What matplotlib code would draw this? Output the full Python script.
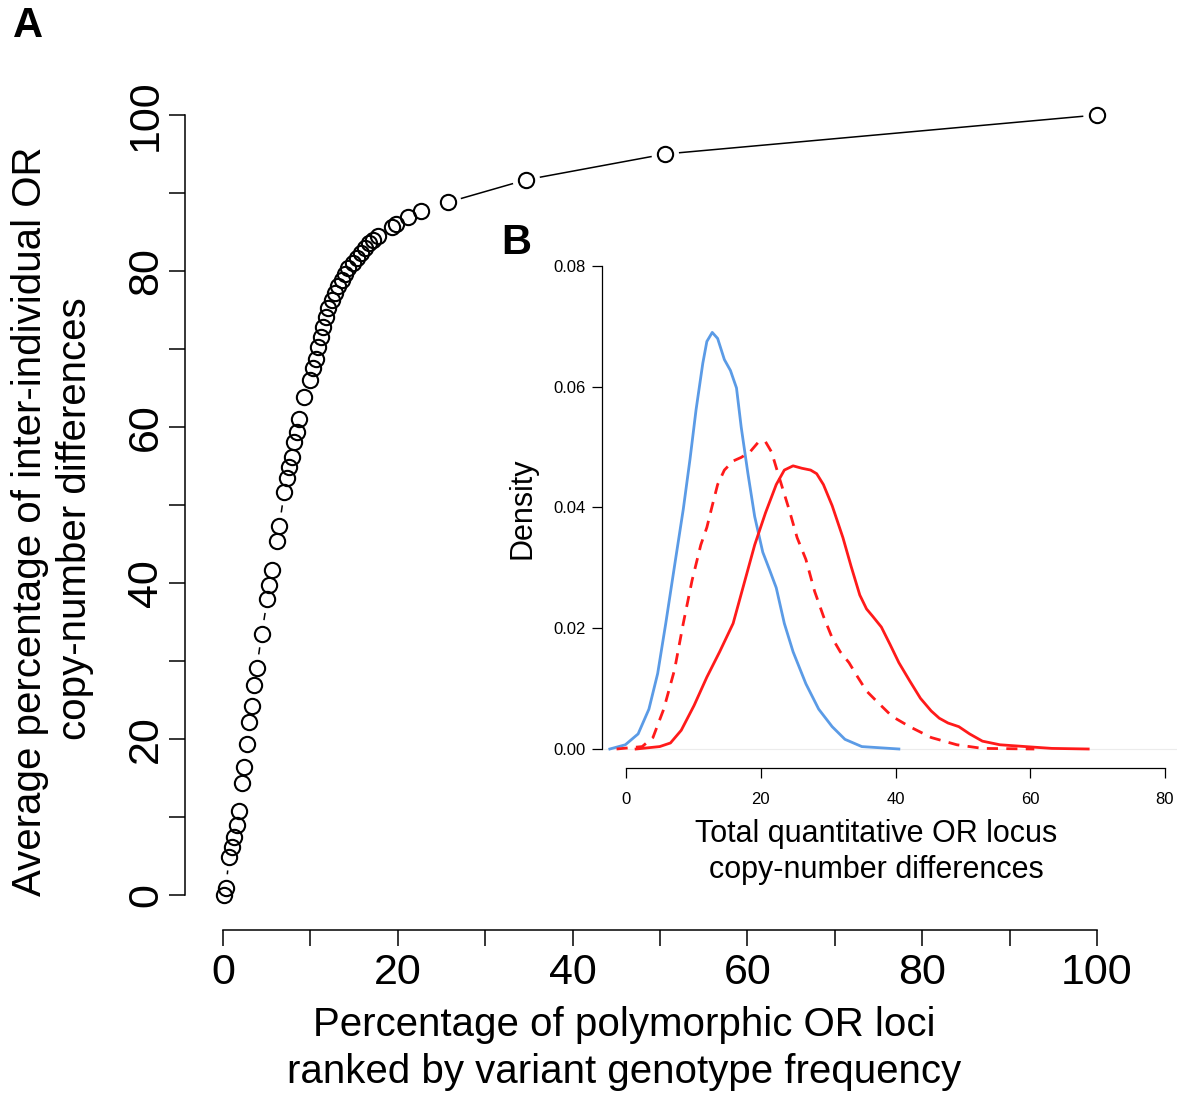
import matplotlib
matplotlib.use('Agg')
import matplotlib.pyplot as plt
import numpy as np

plt.rcParams['font.family'] = ['Liberation Sans', 'DejaVu Sans']

# panel A: ranked loci vs cumulative % of copy-number differences
loci_pct = [0.1, 0.34, 0.69, 1.0, 1.29, 1.57, 1.86, 2.14, 2.44, 2.71, 3.0, 3.28, 3.58, 3.86,
            4.43, 5.07, 5.26, 5.6, 6.14, 6.44, 7.01, 7.29, 7.59, 7.86, 8.16, 8.5, 8.73, 9.3,
            9.95, 10.33, 10.6, 10.9, 11.2, 11.48, 11.8, 12.05, 12.44, 12.8, 13.2, 13.58, 13.96,
            14.34, 14.84, 15.3, 15.76, 16.25, 16.74, 17.2, 17.7, 19.3, 19.8, 21.2, 22.7, 25.7,
            34.7, 50.6, 100]
diff_pct = [0, 0.9, 4.9, 6.2, 7.4, 9.0, 10.8, 14.4, 16.4, 19.4, 22.2, 24.2, 26.9, 29.1,
            33.5, 37.9, 39.7, 41.7, 45.4, 47.3, 51.7, 53.5, 54.9, 56.2, 58.1, 59.4, 61.0, 63.8,
            66.0, 67.6, 68.7, 70.3, 71.5, 72.8, 74.1, 75.3, 76.3, 77.2, 78.1, 78.8, 79.6,
            80.4, 81.0, 81.7, 82.3, 82.9, 83.6, 84.0, 84.5, 85.6, 86.0, 86.9, 87.7, 88.8,
            91.7, 95.0, 100]

# panel B: density curves
blue_x = [-2.4, -0.1, 1.8, 3.4, 4.7, 5.9, 7.2, 8.5, 9.5, 10.4, 11.4, 12.0, 12.8, 13.6, 14.6,
          15.5, 16.4, 17.1, 18.1, 19.1, 20.3, 21.3, 22.3, 23.5, 24.8, 26.7, 28.6, 30.6, 32.5,
          35.0, 40.5]
blue_y = [0, 0.0007, 0.0025, 0.0066, 0.0125, 0.0208, 0.0303, 0.0397, 0.048, 0.0562, 0.0639,
          0.0675, 0.069, 0.068, 0.0645, 0.0627, 0.0598, 0.0533, 0.0456, 0.0385, 0.0326, 0.0297,
          0.0267, 0.0208, 0.0161, 0.0108, 0.0066, 0.0037, 0.0016, 0.0004, 0]

dash_x = [-1.4, 2.4, 4.0, 5.6, 7.2, 8.5, 9.8, 11.1, 12.0, 12.8, 13.6, 14.6, 15.9, 17.1, 18.4,
          19.7, 20.7, 21.6, 22.9, 24.2, 25.4, 26.7, 28.0, 29.3, 30.6, 31.8, 33.1, 34.4, 35.7,
          37.3, 39.5, 42.1, 45.3, 49.1, 52.9, 60.6]
dash_y = [0, 0.0004, 0.0019, 0.0066, 0.0131, 0.0208, 0.0279, 0.0338, 0.0367, 0.0403, 0.0438,
          0.0462, 0.0477, 0.0483, 0.0492, 0.0509, 0.0509, 0.0492, 0.0444, 0.0397, 0.035, 0.0314,
          0.0261, 0.022, 0.0184, 0.0161, 0.0143, 0.0119, 0.0096, 0.0078, 0.0054, 0.0037, 0.0019,
          0.0007, 0.0001, 0]

red_x = [1.5, 5.0, 6.6, 8.2, 10.1, 12.0, 13.9, 15.9, 17.5, 19.1, 20.7, 22.3, 23.5, 24.8, 26.1,
         27.4, 28.3, 29.3, 30.6, 32.2, 33.4, 34.7, 35.7, 36.6, 37.9, 39.2, 40.5, 42.1, 43.7,
         45.3, 46.5, 47.8, 49.4, 51.0, 52.9, 55.5, 59.3, 63.2, 68.6]
red_y = [0, 0.0004, 0.001, 0.0031, 0.0072, 0.0119, 0.0161, 0.0208, 0.0273, 0.0338, 0.0391,
         0.0438, 0.0462, 0.0469, 0.0465, 0.0462, 0.0456, 0.0438, 0.0403, 0.035, 0.0303, 0.0255,
         0.0232, 0.022, 0.0202, 0.0173, 0.0143, 0.0113, 0.0084, 0.0063, 0.0051, 0.0043, 0.0037,
         0.0025, 0.0013, 0.0007, 0.0004, 0.0001, 0]

W, H = 1177, 1094
fig = plt.figure(figsize=(W / 100, H / 100), dpi=100)

def box(l, t, r, b):
    return [l / W, 1 - b / H, (r - l) / W, (b - t) / H]

# ---- A
ax = fig.add_axes(box(223, 115, 1097, 895))
ax.set_xlim(0, 100)
ax.set_ylim(0, 100)
ax.patch.set_visible(False)
ax.plot(loci_pct, diff_pct, 'o', ms=11, mfc='none', mec='black', mew=1.5, clip_on=False)

# R type="b": segments with a gap round each point
gap = 14.5
pts = ax.transData.transform(np.column_stack([loci_pct, diff_pct]))
inv = ax.transData.inverted()
for p0, p1 in zip(pts[:-1], pts[1:]):
    d = p1 - p0
    L = np.hypot(*d)
    if L > 2 * gap + 1:
        seg = inv.transform([p0 + d / L * gap, p1 - d / L * gap])
        ax.plot(seg[:, 0], seg[:, 1], color='black', lw=1.1, clip_on=False)

for s in ['top', 'right']:
    ax.spines[s].set_visible(False)
ax.spines['left'].set_position(('outward', 27.4))
ax.spines['bottom'].set_position(('outward', 25.2))
ax.spines['left'].set_bounds(0, 100)
ax.spines['bottom'].set_bounds(0, 100)
for s in ['left', 'bottom']:
    ax.spines[s].set_linewidth(1.1)
ax.set_xticks(range(0, 101, 20))
ax.set_xticks(range(10, 100, 20), minor=True)
ax.set_yticks(range(0, 101, 20))
ax.set_yticks(range(10, 100, 20), minor=True)
ax.set_yticklabels([str(v) for v in range(0, 101, 20)], rotation=90, va='center')
ax.tick_params(which='both', length=11.5, width=1.1, direction='out')
ax.tick_params(axis='x', labelsize=31, pad=5)
ax.tick_params(axis='y', labelsize=31, pad=2)

fig.text(30 / W, 1 - 521 / H, 'Average percentage of inter-individual OR', rotation=90,
         ha='center', va='center', fontsize=29)
fig.text(75 / W, 1 - 519 / H, 'copy-number differences', rotation=90,
         ha='center', va='center', fontsize=29)
fig.text(624 / W, 1 - 1025 / H, 'Percentage of polymorphic OR loci',
         ha='center', va='center', fontsize=29)
fig.text(624 / W, 1 - 1072 / H, 'ranked by variant genotype frequency',
         ha='center', va='center', fontsize=29)
fig.text(28 / W, 1 - 26 / H, 'A', ha='center', va='center', fontsize=30, fontweight='bold')

# ---- B
bx = fig.add_axes(box(626, 266, 1165, 749))
bx.set_xlim(0, 80)
bx.set_ylim(0, 0.08)
bx.patch.set_visible(False)
bx.plot([-0.04, 1.02], [0, 0], color='#ececec', lw=0.8, transform=bx.get_yaxis_transform(),
        clip_on=False)
bx.plot(blue_x, blue_y, color='#5b9be6', lw=2.0, solid_joinstyle='round', clip_on=False)
bx.plot(dash_x, dash_y, color='#ff1a1a', lw=2.0, dashes=(4, 3), clip_on=False)
bx.plot(red_x, red_y, color='#ff1a1a', lw=2.0, solid_joinstyle='round', clip_on=False)
for s in ['top', 'right']:
    bx.spines[s].set_visible(False)
bx.spines['left'].set_position(('outward', 17.3))
bx.spines['bottom'].set_position(('outward', 13.7))
bx.spines['left'].set_bounds(0, 0.08)
bx.spines['bottom'].set_bounds(0, 80)
for s in ['left', 'bottom']:
    bx.spines[s].set_linewidth(0.9)
bx.set_xticks(range(0, 81, 20))
bx.set_yticks([0, 0.02, 0.04, 0.06, 0.08])
bx.set_yticklabels(['0.00', '0.02', '0.04', '0.06', '0.08'])
bx.tick_params(length=7, width=0.9, direction='out', labelsize=12)
bx.tick_params(axis='x', pad=10)
bx.tick_params(axis='y', pad=5)

fig.text(523 / W, 1 - 508 / H, 'Density', rotation=90, ha='center', va='center', fontsize=22)
fig.text(876 / W, 1 - 834 / H, 'Total quantitative OR locus', ha='center', va='center',
         fontsize=22)
fig.text(876 / W, 1 - 870 / H, 'copy-number differences', ha='center', va='center',
         fontsize=22)
fig.text(516 / W, 1 - 243 / H, 'B', ha='center', va='center', fontsize=30, fontweight='bold')

fig.savefig('out.png', dpi=100)
